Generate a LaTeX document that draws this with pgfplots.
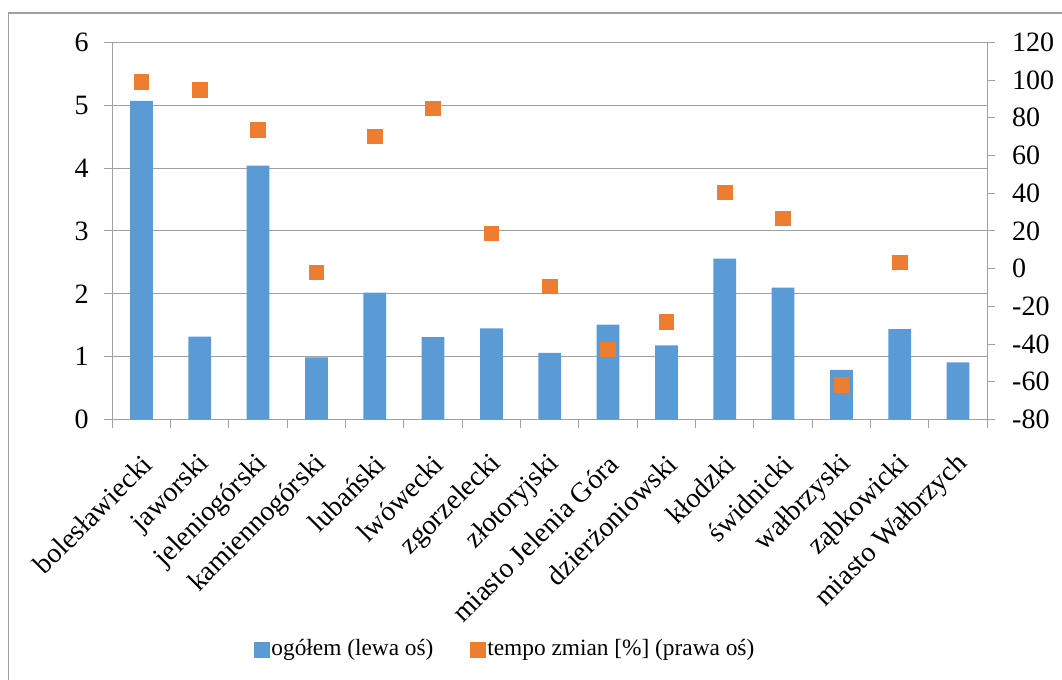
\documentclass[border=0pt]{standalone}
\usepackage{fontspec}
\setmainfont{Liberation Serif}
\usepackage{pgfplots}
\pgfplotsset{compat=1.18}
\definecolor{barblue}{HTML}{5B9BD5}
\definecolor{markorange}{HTML}{ED7D31}
\definecolor{gridgray}{RGB}{160,160,160}

\pgfplotstableread{
x ogolem
0  5.07
1  1.32
2  4.04
3  0.99
4  2.02
5  1.31
6  1.45
7  1.06
8  1.51
9  1.18
10 2.56
11 2.10
12 0.79
13 1.44
14 0.91
}\ogolem

\pgfplotstableread{
x tempo
0  99.0
1  94.6
2  73.5
3  -2.0
4  70.0
5  85.0
6  18.7
7  -9.4
8  -42.9
9  -28.2
10 40.4
11 26.6
12 -61.8
13 3.3
}\tempo

\pgfplotsset{
  common/.style={
    at={(84.2pt,194.6pt)}, anchor=south west,
    scale only axis, width=656.25pt, height=282.9pt,
    xmin=-0.5, xmax=14.5,
    tick align=outside, major tick length=6pt,
    axis line style={gridgray, line width=0.8pt, -},
    every tick/.style={gridgray, line width=0.8pt},
    /pgf/number format/assume math mode=true,
    ticklabel style={font=\fontsize{21}{21}\selectfont, inner sep=0pt},
  }
}

\begin{document}
\begin{tikzpicture}[x=1pt,y=1pt]
\useasboundingbox (0,0) rectangle (796.5,509.25);
\draw[gridgray, line width=0.8pt] (6.4,-10) -- (6.4,499.5) -- (810,499.5);

\begin{axis}[common,
  axis y line*=left, axis x line*=bottom,
  ymin=0, ymax=6, ytick={0,1,...,6},
  ymajorgrids, grid style={gridgray, line width=0.8pt},
  xtick={0,...,14},
  major x tick style={draw=none},
  minor xtick={-0.5,0.5,...,14.5},
  minor tick length=6pt,
  xticklabels={bolesławiecki, jaworski, jeleniogórski, kamiennogórski, lubański, lwówecki, zgorzelecki, złotoryjski, miasto Jelenia Góra, dzierżoniowski, kłodzki, świdnicki, wałbrzyski, ząbkowicki, miasto Wałbrzych},
  xticklabel style={rotate=45, anchor=east, xshift=-14pt, yshift=-20pt},
  yticklabel style={anchor=east, xshift=-11.5pt},
]
\addplot[ybar, bar width=0.39, fill=barblue, draw=none] table[x=x, y=ogolem] {\ogolem};
\end{axis}

\begin{axis}[common,
  axis y line*=right, axis x line=none,
  ymin=-80, ymax=120, ytick={-80,-60,...,120},
  yticklabel style={anchor=west, xshift=12.5pt},
  legend style={at={(axis description cs:0.162,-0.608)}, anchor=west,
    draw=none, fill=none, inner sep=0pt, legend columns=2,
    font=\fontsize{17.5}{17.5}\selectfont,
    nodes={inner sep=1.5pt},
    /tikz/every even column/.append style={column sep=26pt}},
  legend cell align=left,
]
\addlegendimage{legend image code/.code={\fill[barblue] (0pt,-6pt) rectangle (11pt,5pt);}}
\addlegendentry{ogółem (lewa oś)}
\addplot[only marks, color=markorange, mark=square*, mark size=5.5pt,
  mark options={fill=markorange, draw=markorange, line width=0pt},
  legend image code/.code={\fill[markorange] (0pt,-6pt) rectangle (11pt,5pt);}]
  table[x=x, y=tempo] {\tempo};
\addlegendentry{tempo zmian [\%] (prawa oś)}
\end{axis}
\end{tikzpicture}
\end{document}
